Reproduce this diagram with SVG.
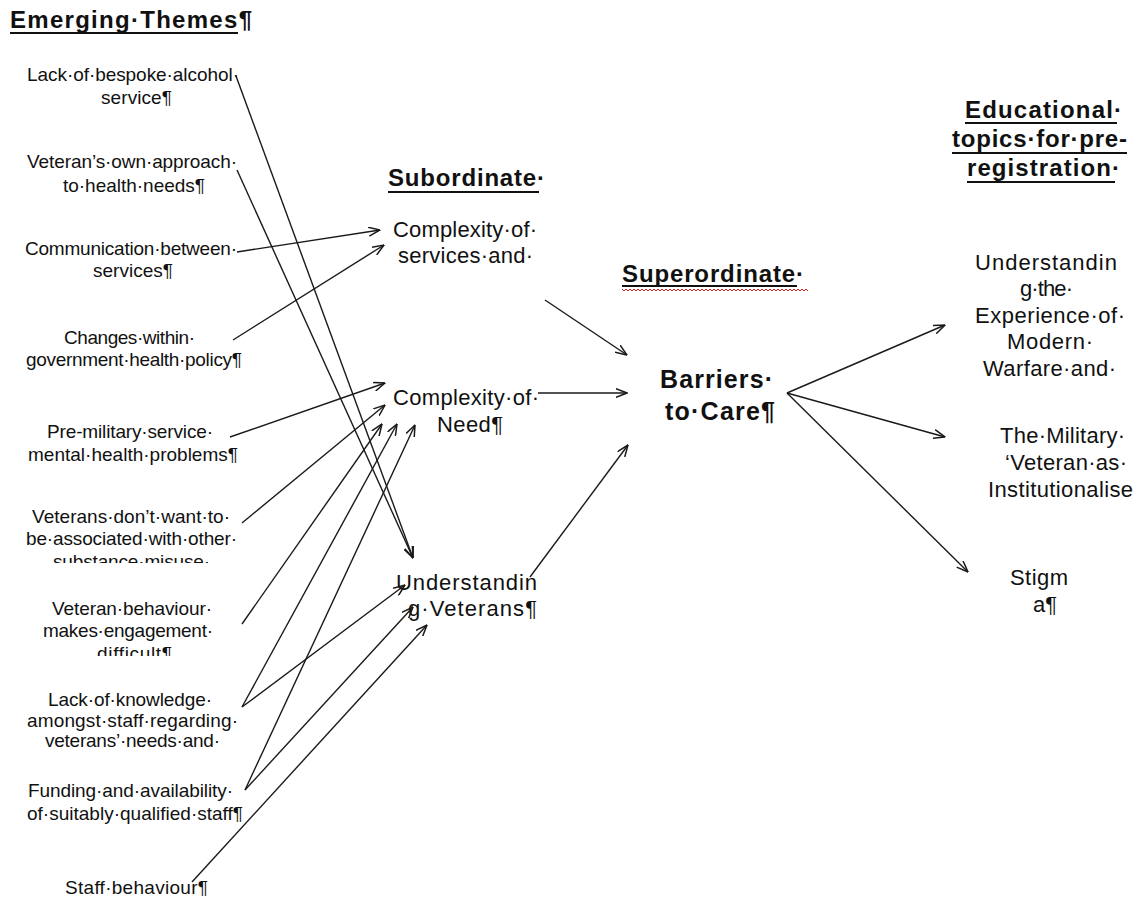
<svg xmlns="http://www.w3.org/2000/svg" width="1144" height="902" viewBox="0 0 1144 902">
<defs>
<style>
text{font-family:"Liberation Sans",Arial,sans-serif;fill:#111}
.l{font-size:19px}
.m{font-size:22px}
.r{font-size:22px}
.h{font-size:24px;font-weight:bold}
.b{font-size:25px;font-weight:bold}
.ul{stroke:#111;stroke-width:2}
.c line{stroke:#1a1a1a;stroke-width:1.4;marker-end:url(#ah)}
</style>
<marker id="ah" viewBox="0 0 12 10" refX="11.5" refY="5" markerWidth="12" markerHeight="10" markerUnits="userSpaceOnUse" orient="auto">
<path d="M0,0.5 L11.5,5 L0,9.5" fill="none" stroke="#1a1a1a" stroke-width="1.5"/>
</marker>
<clipPath id="cp6"><rect x="0" y="500" width="300" height="63"/></clipPath>
<clipPath id="cp7"><rect x="0" y="590" width="300" height="66"/></clipPath>
<clipPath id="cp8"><rect x="0" y="680" width="300" height="70"/></clipPath>
</defs>
<rect width="1144" height="902" fill="#fff"/>

<g id="headers">
<text class="h" x="10" y="28" textLength="242" lengthAdjust="spacing">Emerging·Themes¶</text>
<line class="ul" x1="10" y1="33" x2="238" y2="33"/>
<text class="h" x="388" y="186" textLength="157" lengthAdjust="spacing">Subordinate·</text>
<line class="ul" x1="388" y1="192" x2="539" y2="192"/>
<text class="h" x="622" y="282" textLength="182" lengthAdjust="spacing">Superordinate·</text>
<line class="ul" x1="622" y1="286" x2="797" y2="286"/>
<path d="M622,289 l2,2 l2,-2 l2,2 l2,-2 l2,2 l2,-2 l2,2 l2,-2 l2,2 l2,-2 l2,2 l2,-2 l2,2 l2,-2 l2,2 l2,-2 l2,2 l2,-2 l2,2 l2,-2 l2,2 l2,-2 l2,2 l2,-2 l2,2 l2,-2 l2,2 l2,-2 l2,2 l2,-2 l2,2 l2,-2 l2,2 l2,-2 l2,2 l2,-2 l2,2 l2,-2 l2,2 l2,-2 l2,2 l2,-2 l2,2 l2,-2 l2,2 l2,-2 l2,2 l2,-2 l2,2 l2,-2 l2,2 l2,-2 l2,2 l2,-2 l2,2 l2,-2 l2,2 l2,-2 l2,2 l2,-2 l2,2 l2,-2 l2,2 l2,-2 l2,2 l2,-2 l2,2 l2,-2 l2,2 l2,-2 l2,2 l2,-2 l2,2 l2,-2 l2,2 l2,-2 l2,2 l2,-2 l2,2 l2,-2 l2,2 l2,-2 l2,2 l2,-2 l2,2 l2,-2 l2,2 l2,-2 l2,2 l2,-2 l2,2 l2,-2 l2,2" fill="none" stroke="#d22" stroke-width="1"/>
<text class="h" x="965" y="118" textLength="157" lengthAdjust="spacing">Educational·</text>
<line class="ul" x1="965" y1="123" x2="1117" y2="123"/>
<text class="h" x="952" y="147" textLength="175" lengthAdjust="spacing">topics·for·pre-</text>
<line class="ul" x1="952" y1="153" x2="1127" y2="153"/>
<text class="h" x="967" y="176" textLength="153" lengthAdjust="spacing">registration·</text>
<line class="ul" x1="967" y1="182" x2="1115" y2="182"/>
</g>

<g id="n1"><text class="l" x="27" y="81" textLength="212" lengthAdjust="spacing">Lack·of·bespoke·alcohol·</text><text class="l" x="101" y="104" textLength="71" lengthAdjust="spacing">service¶</text></g>
<g id="n2"><text class="l" x="27" y="168" textLength="210" lengthAdjust="spacing">Veteran’s·own·approach·</text><text class="l" x="63" y="192" textLength="142" lengthAdjust="spacing">to·health·needs¶</text></g>
<g id="n3"><text class="l" x="25" y="255" textLength="212" lengthAdjust="spacing">Communication·between·</text><text class="l" x="93" y="277" textLength="80" lengthAdjust="spacing">services¶</text></g>
<g id="n4"><text class="l" x="64" y="344" textLength="131" lengthAdjust="spacing">Changes·within·</text><text class="l" x="26" y="366" textLength="216" lengthAdjust="spacing">government·health·policy¶</text></g>
<g id="n5"><text class="l" x="47" y="438" textLength="166" lengthAdjust="spacing">Pre-military·service·</text><text class="l" x="28" y="461" textLength="210" lengthAdjust="spacing">mental·health·problems¶</text></g>
<g id="n6" clip-path="url(#cp6)"><text class="l" x="32" y="523" textLength="198" lengthAdjust="spacing">Veterans·don’t·want·to·</text><text class="l" x="26" y="545" textLength="211" lengthAdjust="spacing">be·associated·with·other·</text><text class="l" x="53" y="568" textLength="157" lengthAdjust="spacing">substance·misuse·</text></g>
<g id="n7" clip-path="url(#cp7)"><text class="l" x="52" y="615" textLength="160" lengthAdjust="spacing">Veteran·behaviour·</text><text class="l" x="43" y="637" textLength="170" lengthAdjust="spacing">makes·engagement·</text><text class="l" x="97" y="660" textLength="75" lengthAdjust="spacing">difficult¶</text></g>
<g id="n8" clip-path="url(#cp8)"><text class="l" x="48" y="706" textLength="164" lengthAdjust="spacing">Lack·of·knowledge·</text><text class="l" x="27" y="727" textLength="211" lengthAdjust="spacing">amongst·staff·regarding·</text><text class="l" x="45" y="747" textLength="175" lengthAdjust="spacing">veterans’·needs·and·</text></g>
<g id="n9"><text class="l" x="28" y="797" textLength="205" lengthAdjust="spacing">Funding·and·availability·</text><text class="l" x="27" y="820" textLength="216" lengthAdjust="spacing">of·suitably·qualified·staff¶</text></g>
<g id="n10"><text class="l" x="65" y="894" textLength="143" lengthAdjust="spacing">Staff·behaviour¶</text></g>

<g id="s1"><text class="m" x="393" y="237" textLength="144" lengthAdjust="spacing">Complexity·of·</text><text class="m" x="398" y="263" textLength="135" lengthAdjust="spacing">services·and·</text></g>
<g id="s2"><text class="m" x="393" y="405" textLength="146" lengthAdjust="spacing">Complexity·of·</text><text class="m" x="437" y="432" textLength="66" lengthAdjust="spacing">Need¶</text></g>
<g id="s3"><text class="m" x="396" y="590" textLength="141" lengthAdjust="spacing">Understandin</text><text class="m" x="408" y="616" textLength="129" lengthAdjust="spacing">g·Veterans¶</text></g>

<g id="sup"><text class="b" x="660" y="388" textLength="113" lengthAdjust="spacing">Barriers·</text><text class="b" x="665" y="420" textLength="110" lengthAdjust="spacing">to·Care¶</text></g>

<g id="e1"><text class="r" x="975" y="270" textLength="142" lengthAdjust="spacing">Understandin</text><text class="r" x="1020" y="296" textLength="53" lengthAdjust="spacing">g·the·</text><text class="r" x="975" y="323" textLength="150" lengthAdjust="spacing">Experience·of·</text><text class="r" x="1007" y="349" textLength="86" lengthAdjust="spacing">Modern·</text><text class="r" x="983" y="376" textLength="133" lengthAdjust="spacing">Warfare·and·</text></g>
<g id="e2"><text class="r" x="1000" y="443" textLength="125" lengthAdjust="spacing">The·Military·</text><text class="r" x="1005" y="470" textLength="122" lengthAdjust="spacing">‘Veteran·as·</text><text class="r" x="988" y="497" textLength="145" lengthAdjust="spacing">Institutionalise</text></g>
<g id="e3"><text class="r" x="1010" y="585" textLength="58" lengthAdjust="spacing">Stigm</text><text class="r" x="1033" y="612" textLength="24" lengthAdjust="spacing">a¶</text></g>

<g id="connectors" class="c">
<line x1="236" y1="76" x2="413" y2="558"/>
<line x1="237" y1="170" x2="413" y2="558"/>
<line x1="237" y1="252" x2="380" y2="230"/>
<line x1="233" y1="340" x2="384" y2="245"/>
<line x1="230" y1="437" x2="385" y2="383"/>
<line x1="242" y1="523" x2="385" y2="405"/>
<line x1="242" y1="624" x2="382" y2="424"/>
<line x1="242" y1="707" x2="397" y2="424"/>
<line x1="242" y1="707" x2="405" y2="585"/>
<line x1="245" y1="790" x2="415" y2="425"/>
<line x1="245" y1="790" x2="413" y2="607"/>
<line x1="192" y1="882" x2="427" y2="625"/>
<line x1="545" y1="300" x2="627" y2="355"/>
<line x1="538" y1="393" x2="627" y2="393"/>
<line x1="530" y1="577" x2="628" y2="445"/>
<line x1="787" y1="393" x2="945" y2="325"/>
<line x1="787" y1="393" x2="945" y2="437"/>
<line x1="787" y1="393" x2="968" y2="572"/>
</g>
</svg>
